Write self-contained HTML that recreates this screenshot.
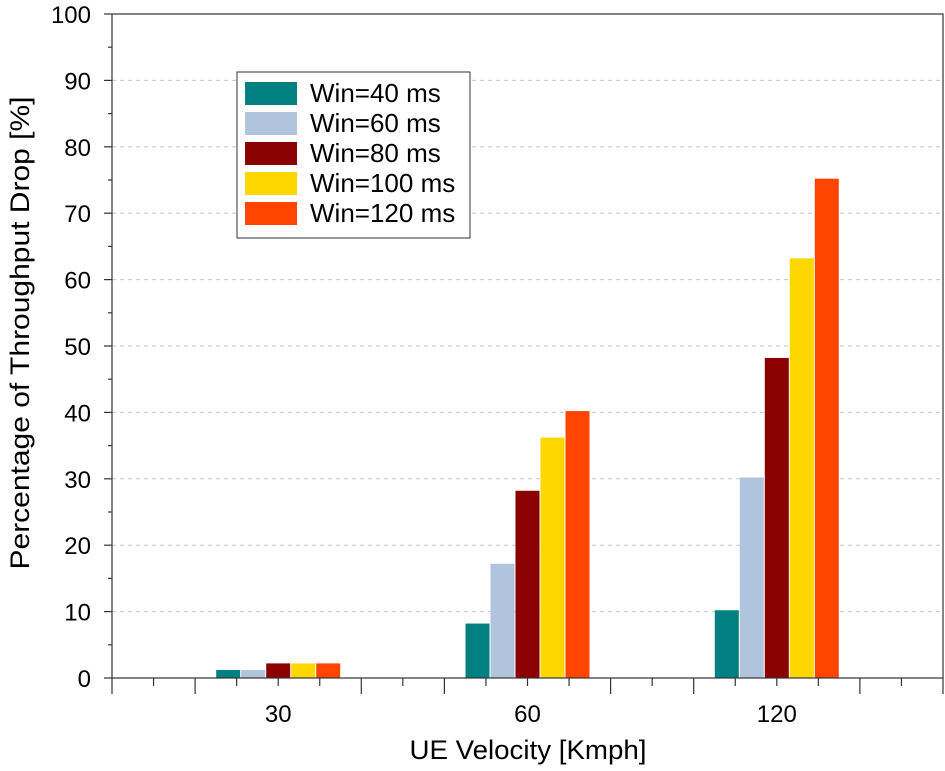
<!DOCTYPE html>
<html><head><meta charset="utf-8"><style>
body{margin:0;background:#fff}
svg{display:block;font-family:"Liberation Sans",Arial,sans-serif}
</style></head><body>
<svg id="chart" width="945" height="771"></svg>
<script>
const categories = ["30","60","120"];
const seriesNames = ["Win=40 ms","Win=60 ms","Win=80 ms","Win=100 ms","Win=120 ms"];
const win40 = [1.2, 8.2, 10.2];
const win60 = [1.2, 17.2, 30.2];
const win80 = [2.2, 28.2, 48.2];
const win100 = [2.2, 36.2, 63.2];
const win120 = [2.2, 40.2, 75.2];
const yTicks = [0,10,20,30,40,50,60,70,80,90,100];
const colors = ["#008080","#b0c4de","#8b0000","#ffd700","#ff4500"];

const NS="http://www.w3.org/2000/svg";
const svg=document.getElementById('chart');
const L=112,R=943,T=14,B=678;
const y=v=>B-(v/100)*(B-T);
const step=(R-L)/20;
const xc=i=>L+step*(4+6*i);
function mk(tag,attrs,parent){const e=document.createElementNS(NS,tag);for(const k in attrs)e.setAttribute(k,attrs[k]);(parent||svg).appendChild(e);return e;}

yTicks.forEach(v=>{ if(v>0&&v<100){const g=mk('line',{x1:L,x2:R,y1:y(v),y2:y(v),stroke:'#c8c8c8','stroke-dasharray':'4,4','stroke-width':1});

}});

const series=[win40,win60,win80,win100,win120];
const bw=24, gap=25;
series.forEach((s,j)=>{s.forEach((v,i)=>{
 const x=xc(i)+(j-2)*gap-bw/2;
 const r=mk('rect',{x:x,y:y(v),width:bw,height:B-y(v),fill:colors[j]});
 
 
});});

const fr=mk('rect',{x:L,y:T,width:R-L,height:B-T,fill:'none',stroke:'#333','stroke-width':1.2});



yTicks.forEach(v=>{
 mk('line',{x1:L-8,x2:L,y1:y(v),y2:y(v),stroke:'#333','stroke-width':1.2});
 if(v<100) mk('line',{x1:L-4,x2:L,y1:y(v+5),y2:y(v+5),stroke:'#333','stroke-width':1.2});
 const t=mk('text',{x:91,y:y(v)+9,'text-anchor':'end','font-size':24});
 t.textContent=v;
 
 
});

for(let k=0;k<=20;k++){
 const isLong=[0,2,6,8,12,14,18,20].includes(k);
 mk('line',{x1:L+k*step,x2:L+k*step,y1:B,y2:B+(isLong?16:8),stroke:'#333','stroke-width':1.2});
}
categories.forEach((c,i)=>{
 const t=mk('text',{x:xc(i),y:722,'text-anchor':'middle','font-size':24});
 t.textContent=c;
 
 
});

const xt=mk('text',{x:528,y:759,'text-anchor':'middle','font-size':27,textLength:237,lengthAdjust:'spacingAndGlyphs'});
xt.textContent='UE Velocity [Kmph]';


const yt=mk('text',{x:0,y:0,'text-anchor':'middle','font-size':27,textLength:473,lengthAdjust:'spacingAndGlyphs',transform:'translate(29,333) rotate(-90)'});
yt.textContent='Percentage of Throughput Drop [%]';



const lg=mk('g',{});


mk('rect',{x:237,y:72,width:233,height:166,fill:'#fff',stroke:'#333','stroke-width':1},lg);
seriesNames.forEach((n,j)=>{
 const cy=93+j*30;
 const e=mk('g',{},lg);
 
 
 mk('rect',{x:245,y:cy-11,width:52,height:23,fill:colors[j]},e);
 const t=mk('text',{x:310,y:cy+9,'font-size':26},e);
 t.textContent=n;
});
</script>
</body></html>
